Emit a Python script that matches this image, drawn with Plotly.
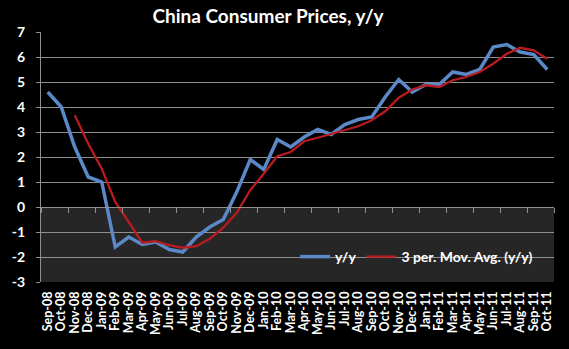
import plotly.graph_objects as go

months = [
    "Sep-08", "Oct-08", "Nov-08", "Dec-08", "Jan-09", "Feb-09", "Mar-09", "Apr-09",
    "May-09", "Jun-09", "Jul-09", "Aug-09", "Sep-09", "Oct-09", "Nov-09", "Dec-09",
    "Jan-10", "Feb-10", "Mar-10", "Apr-10", "May-10", "Jun-10", "Jul-10", "Aug-10",
    "Sep-10", "Oct-10", "Nov-10", "Dec-10", "Jan-11", "Feb-11", "Mar-11", "Apr-11",
    "May-11", "Jun-11", "Jul-11", "Aug-11", "Sep-11", "Oct-11",
]

cpi_yy = [
    4.6, 4.0, 2.4, 1.2, 1.0, -1.6, -1.2, -1.5,
    -1.4, -1.7, -1.8, -1.2, -0.8, -0.5, 0.6, 1.9,
    1.5, 2.7, 2.4, 2.8, 3.1, 2.9, 3.3, 3.5,
    3.6, 4.4, 5.1, 4.6, 4.9, 4.9, 5.4, 5.3,
    5.5, 6.4, 6.5, 6.2, 6.1, 5.5,
]

# 3-period moving average, starting with the third month
mov_avg = [
    None, None, 3.67, 2.53, 1.53, 0.20, -0.60, -1.43,
    -1.37, -1.53, -1.63, -1.57, -1.27, -0.83, -0.23, 0.67,
    1.33, 2.03, 2.20, 2.63, 2.77, 2.93, 3.10, 3.23,
    3.47, 3.83, 4.37, 4.70, 4.87, 4.80, 5.07, 5.20,
    5.40, 5.73, 6.13, 6.37, 6.27, 5.93,
]

y_ticks = [-3, -2, -1, 0, 1, 2, 3, 4, 5, 6, 7]

FONT = "Lato"
GRID = "#8f8f8f"

fig = go.Figure()

fig.add_trace(go.Scatter(
    x=months, y=cpi_yy, name="<b>y/y</b>", mode="lines",
    line=dict(color="#5b88c6", width=3.5),
))
fig.add_trace(go.Scatter(
    x=months, y=mov_avg, name="<b>3 per. Mov. Avg. (y/y)</b>", mode="lines",
    line=dict(color="#b81c22", width=2.3),
))
# carrier for the zero-line axis with its tick marks
fig.add_trace(go.Scatter(
    x=months, y=[None] * len(months), xaxis="x2", showlegend=False,
    hoverinfo="skip", mode="lines",
))

# shaded band below zero
fig.add_shape(type="rect", xref="paper", yref="y", x0=0, x1=1, y0=-3, y1=0,
              fillcolor="#262626", line=dict(width=0), layer="below")

fig.update_layout(
    width=569, height=349,
    margin=dict(l=31, r=15, t=32, b=67),
    paper_bgcolor="black", plot_bgcolor="black",
    font=dict(family=FONT, color="white", size=12),
    title=dict(text="<b>China Consumer Prices, y/y</b>", x=268 / 569, xanchor="center",
               y=1 - 16 / 349, yanchor="middle", font=dict(size=19, family=FONT)),
    showlegend=True,
    legend=dict(orientation="h", x=(290 - 31) / 523, xanchor="left",
                y=(-2 + 3) / 10, yanchor="middle", bgcolor="rgba(0,0,0,0)",
                font=dict(size=14, family=FONT, color="white"),
                itemwidth=30, tracegroupgap=0),
    xaxis=dict(
        type="category", categoryorder="array", categoryarray=months,
        range=[-0.5, len(months) - 0.5],
        showgrid=False, zeroline=False, showline=False, ticks="",
        tickangle=-90, tickfont=dict(size=12.5, family=FONT, color="white"),
        ticklabelstandoff=6,
        tickvals=months, ticktext=[f"<b>{m}</b>" for m in months],
    ),
    xaxis2=dict(
        type="category", categoryorder="array", categoryarray=months,
        matches="x", overlaying="x", anchor="free", position=0.3,
        showgrid=False, zeroline=False, showticklabels=False,
        showline=True, linecolor=GRID, linewidth=1,
        ticks="outside", tickson="boundaries", ticklen=5, tickcolor=GRID,
    ),
    yaxis=dict(
        range=[-3, 7], tickvals=y_ticks, ticktext=[f"<b>{v}</b>" for v in y_ticks],
        showgrid=True, gridcolor=GRID, gridwidth=1, zeroline=False,
        showline=True, linecolor=GRID, linewidth=1,
        ticks="outside", ticklen=4, tickcolor=GRID,
        tickfont=dict(size=14, family=FONT, color="white"),
        ticklabelstandoff=8,
    ),
)

fig.write_html("out.html")
